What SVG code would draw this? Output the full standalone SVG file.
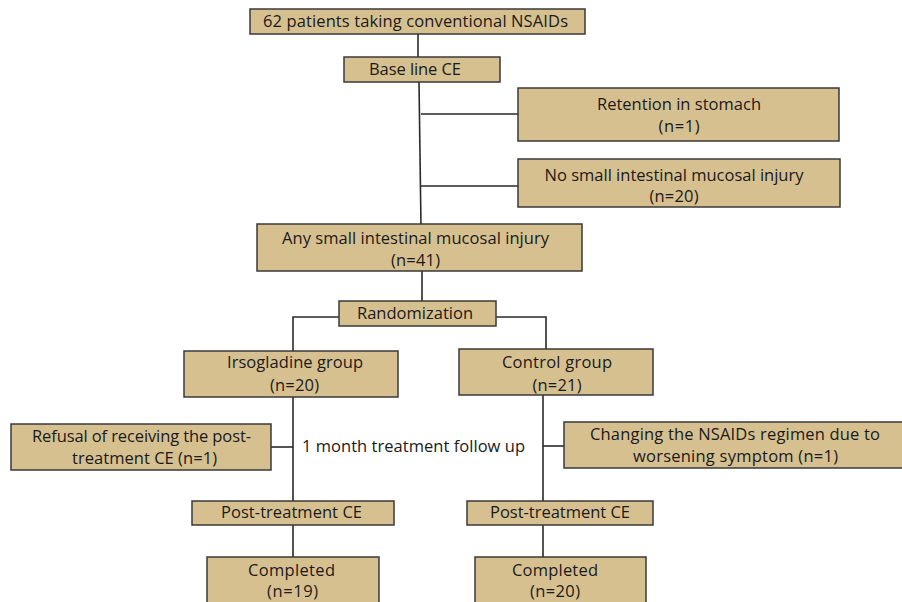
<svg xmlns="http://www.w3.org/2000/svg" width="902" height="602" viewBox="0 0 902 602">
<style>
.box{fill:#d7c08f;stroke:#3a3a3a;stroke-width:1.5}
.ln{fill:none;stroke:#2a2a2a;stroke-width:1.6}
text{font-family:"Open Sans","Liberation Sans",sans-serif;font-size:16.5px;fill:#1a1a1a;text-anchor:middle}
</style>
<rect width="902" height="602" fill="#fff"/>
<g id="connectors">
<path class="ln" d="M418 34V57"/>
<path class="ln" d="M419 82L421 227"/>
<path class="ln" d="M421 114H518"/>
<path class="ln" d="M421 186H518"/>
<path class="ln" d="M422 271V301"/>
<path class="ln" d="M339 317H293V351"/>
<path class="ln" d="M496 317H546V349"/>
<path class="ln" d="M293 397V501"/>
<path class="ln" d="M271 447H293"/>
<path class="ln" d="M293 525V557"/>
<path class="ln" d="M543 395V501"/>
<path class="ln" d="M543 446H564"/>
<path class="ln" d="M543 525V557"/>
</g>
<g id="n_start"><rect class="box" x="250" y="9" width="335" height="25"/><text x="415.5" y="27" textLength="305">62 patients taking conventional NSAIDs</text></g>
<g id="n_baseline"><rect class="box" x="344" y="57" width="156" height="25"/><text x="415" y="75" textLength="92">Base line CE</text></g>
<g id="n_retention"><rect class="box" x="518" y="88" width="321" height="53"/><text x="679" y="110" textLength="164">Retention in stomach</text><text x="679" y="132" textLength="41">(n=1)</text></g>
<g id="n_noinjury"><rect class="box" x="518" y="159" width="322" height="48"/><text x="674" y="181" textLength="259">No small intestinal mucosal injury</text><text x="674" y="202" textLength="49">(n=20)</text></g>
<g id="n_any"><rect class="box" x="257" y="224" width="325" height="47"/><text x="415.5" y="244" textLength="267">Any small intestinal mucosal injury</text><text x="415.5" y="266" textLength="49">(n=41)</text></g>
<g id="n_random"><rect class="box" x="339" y="301" width="157" height="25"/><text x="415" y="319" textLength="116">Randomization</text></g>
<g id="n_irso"><rect class="box" x="184" y="351" width="214" height="46"/><text x="295" y="368" textLength="136">Irsogladine group</text><text x="294.5" y="391" textLength="49">(n=20)</text></g>
<g id="n_control"><rect class="box" x="459" y="349" width="194" height="46"/><text x="557" y="368" textLength="110">Control group</text><text x="557" y="391" textLength="49">(n=21)</text></g>
<g id="n_refusal"><rect class="box" x="11" y="424" width="260" height="46"/><text x="141.5" y="442" textLength="219">Refusal of receiving the post-</text><text x="144.5" y="464" textLength="145">treatment CE (n=1)</text></g>
<g id="n_followup"><text x="413.5" y="452" textLength="223">1 month treatment follow up</text></g>
<g id="n_changing"><rect class="box" x="564" y="422" width="340" height="46"/><text x="735" y="440" textLength="290">Changing the NSAIDs regimen due to</text><text x="735.5" y="462" textLength="205">worsening symptom (n=1)</text></g>
<g id="n_post1"><rect class="box" x="192" y="501" width="202" height="24"/><text x="291.5" y="518" textLength="141">Post-treatment CE</text></g>
<g id="n_post2"><rect class="box" x="467" y="501" width="186" height="24"/><text x="560" y="518" textLength="140">Post-treatment CE</text></g>
<g id="n_comp1"><rect class="box" x="207" y="557" width="172" height="50"/><text x="291.5" y="576" textLength="87">Completed</text><text x="292.5" y="597" textLength="51">(n=19)</text></g>
<g id="n_comp2"><rect class="box" x="475" y="557" width="171" height="50"/><text x="555" y="576" textLength="86">Completed</text><text x="555" y="597" textLength="50">(n=20)</text></g>
</svg>
